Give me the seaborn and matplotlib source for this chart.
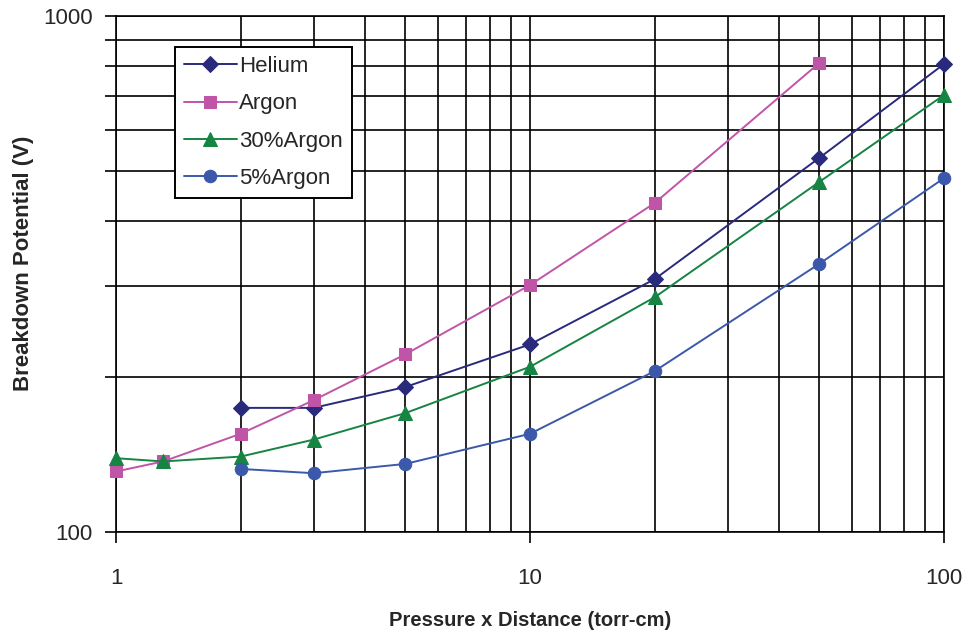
import matplotlib
matplotlib.use("Agg")
import matplotlib.pyplot as plt
import matplotlib.ticker as mticker
import seaborn as sns
import pandas as pd

# ---- data ----
helium_x = [2, 3, 5, 10, 20, 50, 100]
helium_y = [174, 174, 191, 231, 309, 531, 807]

argon_x = [1, 1.3, 2, 3, 5, 10, 20, 50]
argon_y = [131, 137, 155, 180, 221, 301, 434, 811]

ar30_x = [1, 1.3, 2, 3, 5, 10, 20, 50, 100]
ar30_y = [139, 137, 140, 151, 170, 209, 285, 477, 703]

ar5_x = [2, 3, 5, 10, 20, 50, 100]
ar5_y = [132.5, 130, 135.5, 155, 205, 331, 485]

series_names = ["Helium", "Argon", "30%Argon", "5%Argon"]
x_ticks = [1, 10, 100]
y_ticks = [100, 1000]

colors = ["#2A2A7C", "#C055A8", "#168442", "#3B58AA"]
markers = ["D", "s", "^", "o"]
msizes = [8, 8.5, 10, 9]

sns.set_theme(style="white")
plt.rcParams["font.family"] = ["Liberation Sans", "DejaVu Sans"]

fig = plt.figure(figsize=(9.65, 6.34), dpi=100)
ax = fig.add_axes([116/965, 1-532/634, (944-116)/965, (532-16)/634])

all_x = [helium_x, argon_x, ar30_x, ar5_x]
all_y = [helium_y, argon_y, ar30_y, ar5_y]
for name, xs, ys, c, m, ms in zip(series_names, all_x, all_y, colors, markers, msizes):
    df = pd.DataFrame({"x": xs, "y": ys})
    sns.lineplot(data=df, x="x", y="y", ax=ax, color=c, marker=m, markersize=ms,
                 markeredgecolor=c, linewidth=1.4, label=name, zorder=5, clip_on=False)

ax.set_xscale("log")
ax.set_yscale("log")
ax.set_xlim(1, 100)
ax.set_ylim(100, 1000)

ax.xaxis.set_major_locator(mticker.FixedLocator(x_ticks))
ax.xaxis.set_major_formatter(mticker.FixedFormatter([str(v) for v in x_ticks]))
ax.xaxis.set_minor_locator(mticker.LogLocator(base=10, subs=range(2, 10)))
ax.xaxis.set_minor_formatter(mticker.NullFormatter())
ax.yaxis.set_major_locator(mticker.FixedLocator(y_ticks))
ax.yaxis.set_major_formatter(mticker.FixedFormatter([str(v) for v in y_ticks]))
ax.yaxis.set_minor_locator(mticker.LogLocator(base=10, subs=range(2, 10)))
ax.yaxis.set_minor_formatter(mticker.NullFormatter())

ax.grid(True, which="both", color="black", linewidth=1.2)
ax.set_axisbelow(True)

ax.tick_params(axis="x", which="major", direction="out", length=8, width=1.2,
               color="black", labelsize=16, pad=18, bottom=True)
ax.tick_params(axis="x", which="minor", length=0)
ax.tick_params(axis="y", which="both", direction="out", length=8, width=1.2,
               color="black", labelsize=16, pad=9, left=True)

for s in ax.spines.values():
    s.set_color("black")
    s.set_linewidth(1.2)

ax.set_xlabel("Pressure x Distance (torr-cm)", fontsize=14.5, fontweight="bold")
ax.set_ylabel("Breakdown Potential (V)", fontsize=16, fontweight="bold")
ax.xaxis.set_label_coords(0.5, -(630 - 532) / 516)
ax.xaxis.label.set_va("bottom")
ax.yaxis.set_label_coords(-(116 - 34) / 828, (532 - 263) / 516)

leg = ax.legend(loc="upper left", bbox_to_anchor=(0.071, 0.94), fontsize=16,
                frameon=True, fancybox=False, framealpha=1, edgecolor="black",
                borderpad=0.4, labelspacing=0.74, handlelength=2.4, handletextpad=0.1,
                borderaxespad=0)
leg.get_frame().set_linewidth(1.4)
leg.set_zorder(10)

fig.savefig("out.png", dpi=100)
